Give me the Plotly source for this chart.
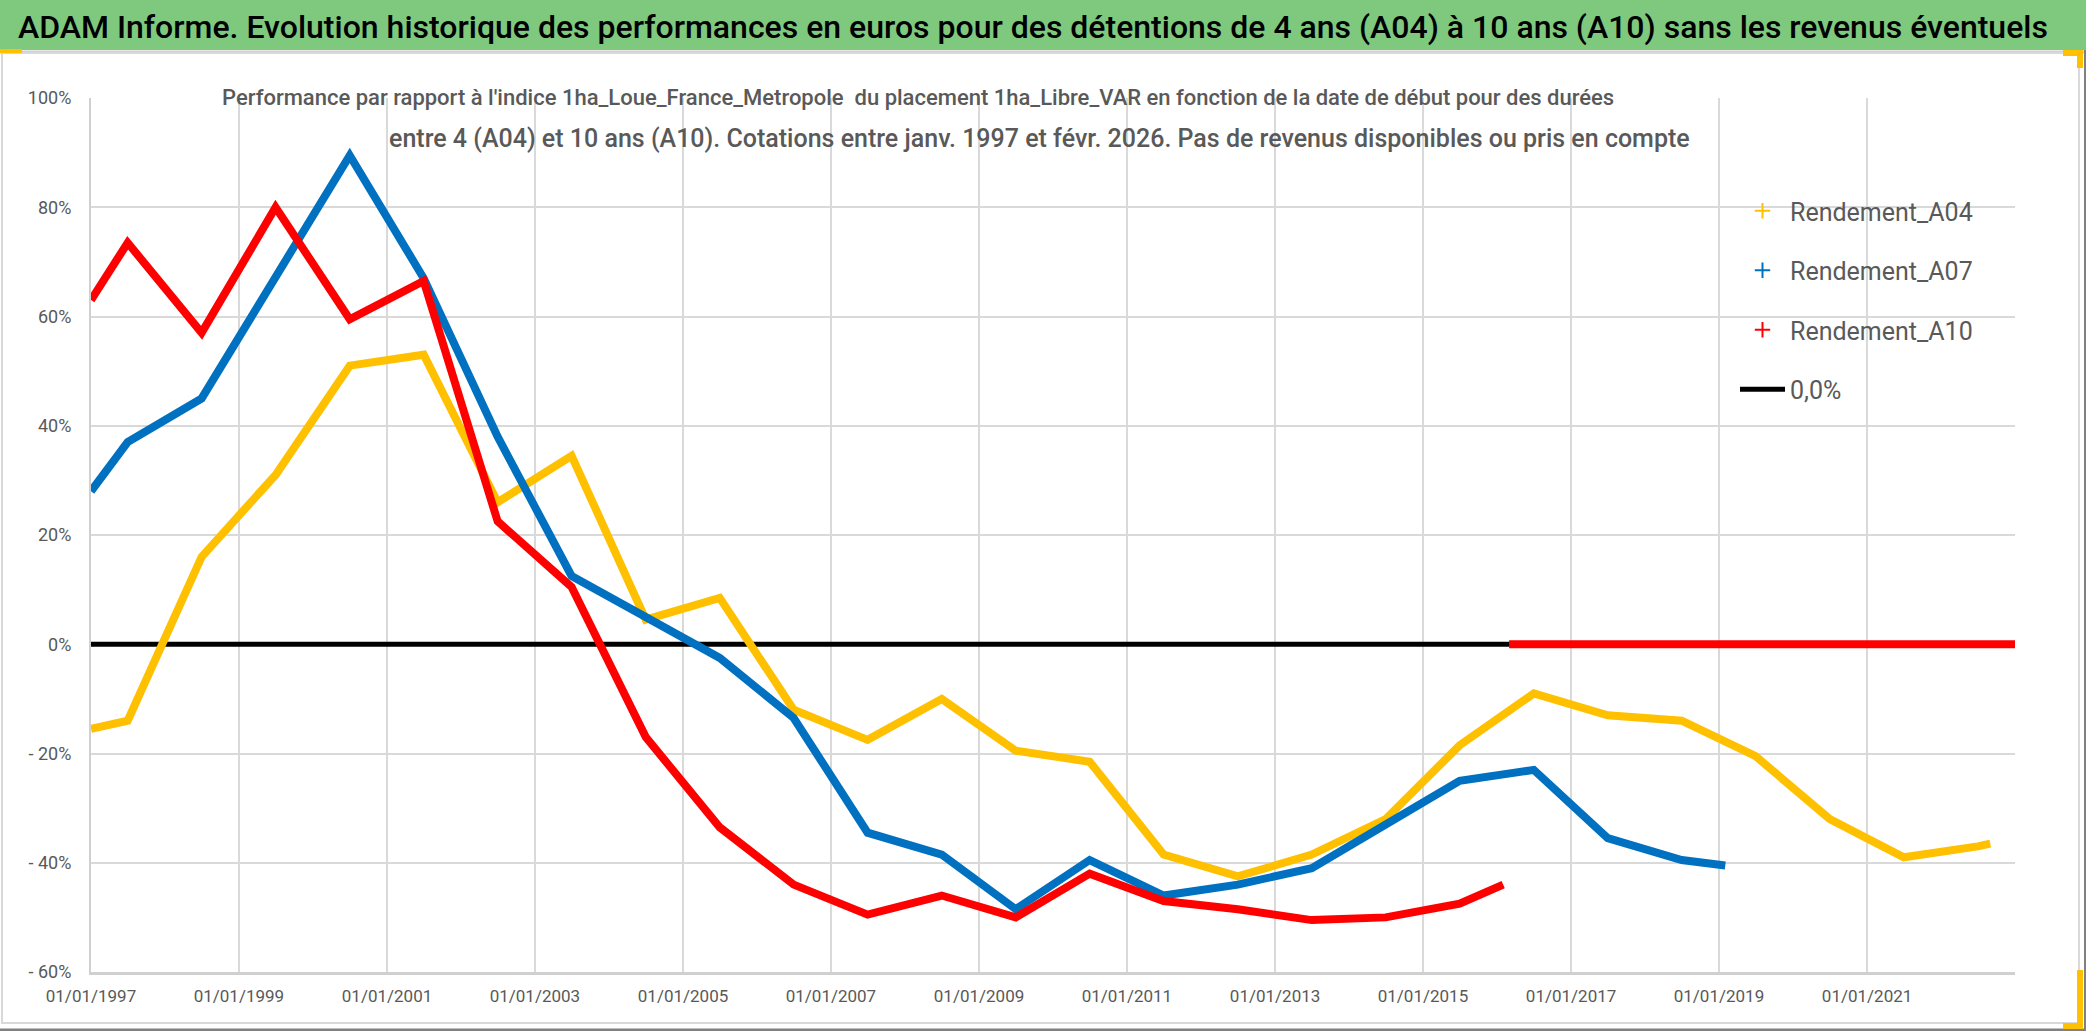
import plotly.graph_objects as go

W, H = 2086, 1031

# ---------------- data ----------------
years_jul = [f"{y}-07-01" for y in range(1997, 2023)]

dates_a04 = ["1997-01-01"] + years_jul + ["2022-09-01"]
vals_a04 = [-15.5, -14, 16, 31, 51, 53, 26, 34.5, 4.5, 8.5, -12, -17.5, -10, -19.5,
            -21.5, -38.5, -42.5, -38.5, -32, -18.5, -9, -13, -14, -20.5, -32, -39,
            -37, -36.5]

dates_a07 = ["1997-01-01"] + years_jul[:22] + ["2019-02-01"]
vals_a07 = [28, 37, 45, 67, 89.5, 67, 38, 12.5, 5, -2.5, -13.5, -34.5, -38.5, -48.5,
            -39.5, -46, -44, -41, -33, -25, -23, -35.5, -39.5, -40.5]

dates_a10 = ["1997-01-01"] + years_jul[:19] + ["2016-02-01", None, "2016-03-01", "2023-01-01"]
vals_a10 = [63, 73.5, 57, 80, 59.5, 66.5, 22.5, 10.5, -17, -33.5, -44, -49.5, -46, -50,
            -42, -47, -48.5, -50.5, -50, -47.5, -44, None, 0, 0]

zero_dates = ["1997-01-01", "2023-01-01"]
zero_vals = [0, 0]

series_names = ["Rendement_A04", "Rendement_A07", "Rendement_A10", "0,0%"]
colors = ["#FFC000", "#0070C0", "#FF0000", "#000000"]

x_tickvals = [f"{y}-01-01" for y in range(1997, 2022, 2)]
x_ticktext = [f"01/01/{y}" for y in range(1997, 2022, 2)]
y_tickvals = [-60, -40, -20, 0, 20, 40, 60, 80, 100]
y_ticktext = ["- 60%", "- 40%", "- 20%", "0%", "20%", "40%", "60%", "80%", "100%"]

title_text = ("ADAM Informe. Evolution historique des performances en euros pour des "
              "détentions de 4 ans (A04) à 10 ans (A10) sans les revenus éventuels")
sub1 = ("Performance par rapport à l'indice 1ha_Loue_France_Metropole  du placement "
        "1ha_Libre_VAR en fonction de la date de début pour des durées")
sub2 = ("entre 4 (A04) et 10 ans (A10). Cotations entre janv. 1997 et févr. 2026. "
        "Pas de revenus disponibles ou pris en compte")

FONT = "Roboto"
GRAY = "#595959"
ORANGE = "#FFC000"

def px(x):
    return x / W

def py(y):
    return 1 - y / H

def rect(x0, y0, x1, y1, fill, layer="above"):
    return dict(type="rect", xref="paper", yref="paper", x0=px(x0), x1=px(x1),
                y0=py(y1), y1=py(y0), fillcolor=fill, line=dict(width=0), layer=layer)

fig = go.Figure()

# zero line (drawn first, below)
fig.add_trace(go.Scatter(x=zero_dates, y=zero_vals, mode="lines",
                         line=dict(color=colors[3], width=5),
                         name=series_names[3], legendrank=4, legendgroup="g4"))
fig.add_trace(go.Scatter(x=dates_a04, y=vals_a04, mode="lines",
                         line=dict(color=colors[0], width=8),
                         showlegend=False, connectgaps=False))
fig.add_trace(go.Scatter(x=dates_a07, y=vals_a07, mode="lines",
                         line=dict(color=colors[1], width=8),
                         showlegend=False, connectgaps=False))
fig.add_trace(go.Scatter(x=dates_a10, y=vals_a10, mode="lines",
                         line=dict(color=colors[2], width=8),
                         showlegend=False, connectgaps=False))
# legend entries with cross markers
for i in range(3):
    fig.add_trace(go.Scatter(x=[None], y=[None], mode="markers",
                             marker=dict(symbol="cross-thin", size=11,
                                         line=dict(color=colors[i], width=2)),
                             name=series_names[i], legendrank=i + 1,
                             legendgroup=f"g{i+1}"))

shapes = [
    # green banner
    rect(0, 0, W, 50, "#7EC97E", layer="below"),
    dict(type="line", xref="paper", yref="paper", x0=0, x1=1, y0=py(52), y1=py(52),
         line=dict(color="#D0D0D0", width=3)),
    # chart frame
    dict(type="rect", xref="paper", yref="paper", x0=px(2), x1=px(2079), y0=py(1023),
         y1=py(53), line=dict(color="#D9D9D9", width=2), fillcolor="rgba(0,0,0,0)"),
    # window edges
    dict(type="line", xref="paper", yref="paper", x0=0, x1=1, y0=py(1030), y1=py(1030),
         line=dict(color="#808080", width=3)),
    dict(type="line", xref="paper", yref="paper", x0=px(2085), x1=px(2085), y0=0, y1=py(50),
         line=dict(color="#808080", width=2)),
    # white boxes behind subtitle and legend (above gridlines, below traces)
    rect(228, 80, 1612, 116, "white", layer="between"),
    rect(385, 116, 1695, 158, "white", layer="between"),
    rect(1700, 180, 2014, 422, "white", layer="between"),
    # selection handles (thin corner marks)
    rect(0, 49, 22, 53, ORANGE),
    rect(2063, 50, 2083, 56, ORANGE),
    rect(2077, 50, 2083, 68, ORANGE),
    rect(2077, 970, 2083, 1029, ORANGE),
    rect(2063, 1023, 2083, 1029, ORANGE),
]

annotations = [
    dict(text=title_text, xref="paper", yref="paper", x=px(16), y=py(27),
         xanchor="left", yanchor="middle", showarrow=False,
         font=dict(family=FONT, size=32, color="#000000", weight=500)),
    dict(text=sub1, xref="paper", yref="paper", x=px(918), y=py(97),
         xanchor="center", yanchor="middle", showarrow=False,
         font=dict(family=FONT, size=22, color=GRAY, weight=500)),
    dict(text=sub2, xref="paper", yref="paper", x=px(1039), y=py(139),
         xanchor="center", yanchor="middle", showarrow=False,
         font=dict(family=FONT, size=25, color=GRAY, weight=500)),
]

fig.update_layout(
    width=W, height=H,
    margin=dict(l=0, r=0, t=0, b=0, autoexpand=False),
    paper_bgcolor="white", plot_bgcolor="white",
    shapes=shapes, annotations=annotations,
    showlegend=True,
    legend=dict(x=px(1735), y=py(188), xanchor="left", yanchor="top",
                bgcolor="rgba(0,0,0,0)", font=dict(family=FONT, size=25, color=GRAY),
                itemwidth=45, tracegroupgap=24, traceorder="grouped"),
    xaxis=dict(domain=[px(91), px(2015)], type="date", automargin=False,
               range=["1997-01-01", "2023-01-01"],
               tickvals=x_tickvals, ticktext=x_ticktext,
               showgrid=True, gridcolor="#D9D9D9", gridwidth=2,
               showline=True, linecolor="#D0D0D0", linewidth=3,
               ticks="", ticklabelstandoff=7, zeroline=False,
               tickfont=dict(family=FONT, size=17, color=GRAY)),
    yaxis=dict(domain=[py(972), py(98)], range=[-60, 100], automargin=False,
               tickvals=y_tickvals, ticktext=y_ticktext,
               showgrid=True, gridcolor="#D9D9D9", gridwidth=2,
               showline=True, linecolor="#D0D0D0", linewidth=2,
               ticks="", ticklabelstandoff=14, zeroline=False,
               tickfont=dict(family=FONT, size=18, color=GRAY)),
)

fig.write_html("out.html", config={"displayModeBar": False},
               post_script="document.body.style.margin='0';document.body.style.overflow='hidden';")
